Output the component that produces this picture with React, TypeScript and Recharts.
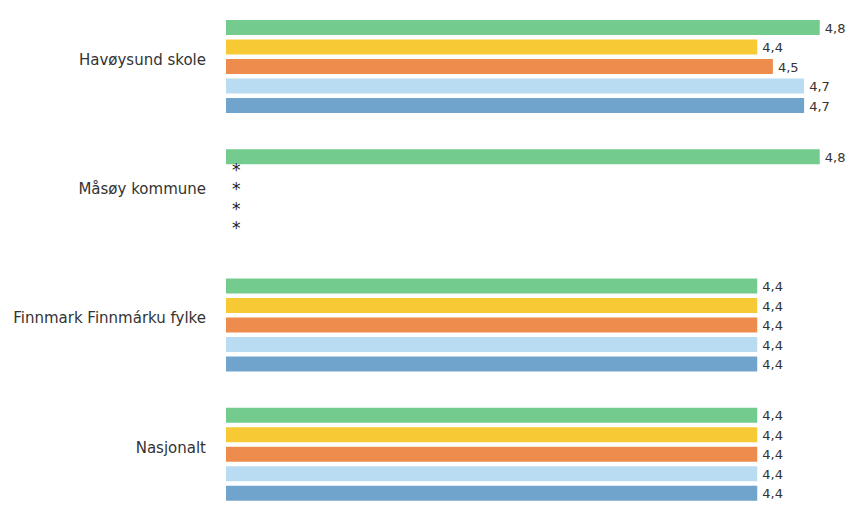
import React from "react";
import { BarChart, Bar, XAxis, YAxis, LabelList } from "recharts";

const categories = ["Havøysund skole", "Måsøy kommune", "Finnmark Finnmárku fylke", "Nasjonalt"];
const series1 = [4.8, 4.8, 4.4, 4.4];
const series2 = [4.4, null, 4.4, 4.4];
const series3 = [4.5, null, 4.4, 4.4];
const series4 = [4.7, null, 4.4, 4.4];
const series5 = [4.7, null, 4.4, 4.4];

const seriesList = [
  { key: "s1", values: series1, color: "#74cb8e" },
  { key: "s2", values: series2, color: "#f6c935" },
  { key: "s3", values: series3, color: "#ee8c4d" },
  { key: "s4", values: series4, color: "#b9dcf2" },
  { key: "s5", values: series5, color: "#71a4cd" },
];

const data = categories.map((name, i) => {
  const row: any = { name };
  seriesList.forEach((s) => {
    row[s.key] = s.values[i];
  });
  return row;
});

const FONT = "'DejaVu Sans', sans-serif";
const PLOT_LEFT = 226;
const BAR_SIZE = 15;
const BAR_GAP = 4.5;
const STRIDE = BAR_SIZE + BAR_GAP;

const ValueLabel = (props: any) => {
  const { x, y, width, height, value } = props;
  if (value == null) return null;
  const cy = Number(y) + Number(height) / 2;
  return (
    <text x={Number(x) + Number(width) + 5} y={cy} dy="0.4em" fontFamily={FONT} fontSize={13} fill="#333">
      {Number(value).toFixed(1).replace(".", ",")}
    </text>
  );
};

const CategoryTick = (props: any) => {
  const { x, y, payload } = props;
  const idx = payload.index;
  const n = seriesList.length;
  return (
    <g>
      <text x={x} y={y - 7} dy="0.35em" textAnchor="end" fontFamily={FONT} fontSize={15} fill="#333">
        {payload.value}
      </text>
      {seriesList.map((s, k) =>
        s.values[idx] == null ? (
          <text
            key={s.key}
            x={PLOT_LEFT + 6}
            y={y + (k - (n - 1) / 2) * STRIDE}
            dy="-0.05em"
            fontFamily={FONT}
            fontSize={17}
            fill="#222"
          >
            *
          </text>
        ) : null
      )}
    </g>
  );
};

export default function App() {
  return (
    <div style={{ position: "fixed", top: 0, left: 0, width: 851, height: 509, overflow: "hidden", background: "#fff" }}>
      <BarChart
        width={851}
        height={522}
        data={data}
        layout="vertical"
        margin={{ top: 2, right: 0, bottom: 3, left: 0 }}
        barSize={BAR_SIZE}
        barGap={BAR_GAP}
      >
        <XAxis type="number" domain={[1, 5]} hide />
        <YAxis
          type="category"
          dataKey="name"
          width={PLOT_LEFT}
          axisLine={false}
          tickLine={false}
          tickSize={6}
          tickMargin={14}
          tick={<CategoryTick />}
        />
        {seriesList.map((s) => (
          <Bar key={s.key} dataKey={s.key} fill={s.color} isAnimationActive={false}>
            <LabelList dataKey={s.key} content={<ValueLabel />} />
          </Bar>
        ))}
      </BarChart>
    </div>
  );
}
